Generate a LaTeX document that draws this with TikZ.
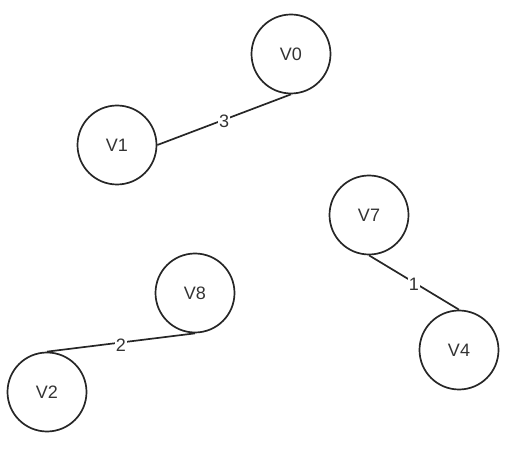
\documentclass[tikz,border=0pt]{standalone}
\usepackage{fontspec}
\setmainfont{Liberation Sans}
\begin{document}
\begin{tikzpicture}[x=1pt, y=-1pt,
  vtx/.style={circle, draw=black!85, line width=1.7pt, minimum size=79pt, inner sep=0pt, font=\fontsize{18}{20}\selectfont, text=black!80},
  wt/.style={fill=white, inner sep=1pt, font=\fontsize{18}{20}\selectfont, text=black!80},
  edge/.style={draw=black!85, line width=1.7pt}]
\useasboundingbox (0,0) rectangle (520,449);

\node[vtx] (v0) at (291,54){V0};
\node[vtx] (v1) at (117,145){V1};
\node[vtx] (v7) at (369,215){V7};
\node[vtx] (v4) at (459,350){V4};
\node[vtx] (v8) at (195,293){V8};
\node[vtx] (v2) at (47,392){V2};

\draw[edge](v1.east) -- node[wt, yshift=-2pt]{3} (v0.south);
\draw[edge](v7.south) -- node[wt, yshift=-2pt]{1} (v4.north);
\draw[edge](v8.south) -- node[wt, yshift=-3pt]{2} (v2.north);

\end{tikzpicture}
\end{document}
